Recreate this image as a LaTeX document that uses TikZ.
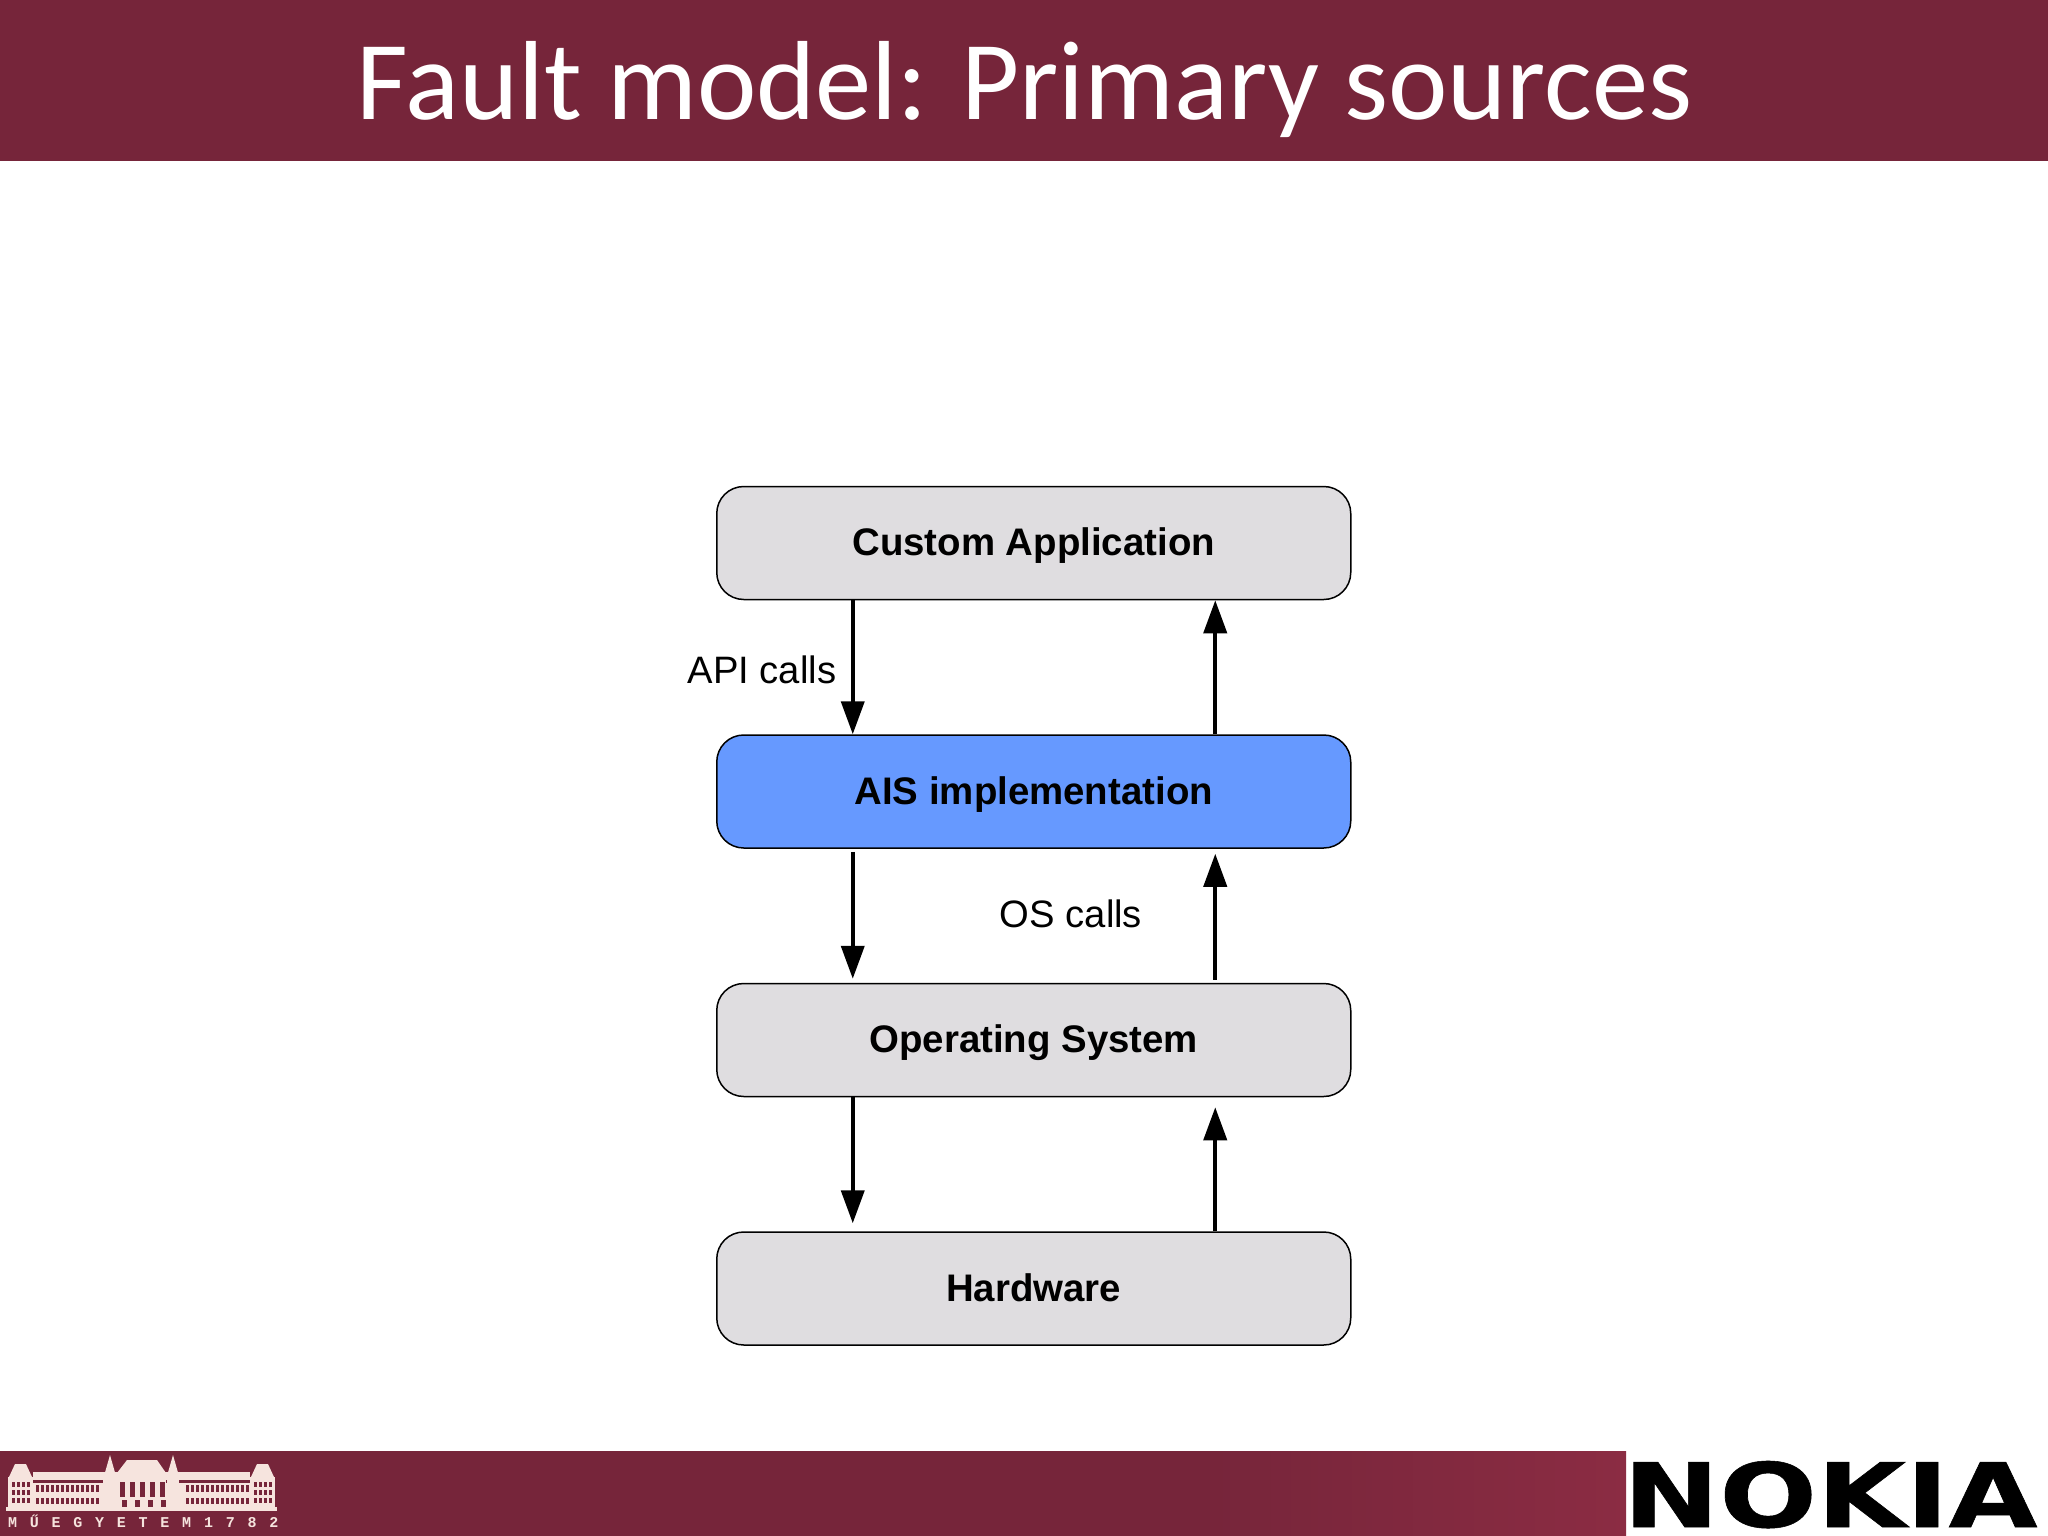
\documentclass[tikz,border=0pt]{standalone}
\usepackage{fontspec}
\usetikzlibrary{arrows.meta,calc}
\setmainfont{Liberation Sans}
\newfontfamily\titlefont{Carlito}
\newfontfamily\logofont[LetterSpace=85]{Liberation Mono}
\newfontfamily\nokiafont[FakeBold=0.6]{DejaVu Sans Bold}
\definecolor{band}{HTML}{76253A}
\definecolor{bandlight}{HTML}{8B2C43}
\definecolor{boxgrey}{HTML}{DFDDE0}
\definecolor{boxblue}{HTML}{6699FF}
\definecolor{cream}{HTML}{F6E4DE}
\tikzset{
  layer/.style={draw=black,line width=1.5pt,rounded corners=27pt,minimum width=634pt,minimum height=113pt,inner sep=0pt,text height=25pt,text depth=0pt,font=\fontsize{38.4pt}{44pt}\selectfont\bfseries,text=black},
  call/.style={line width=4pt,-{Triangle[length=33pt,width=23pt]}},
  lbl/.style={font=\fontsize{38.2pt}{44pt}\selectfont,anchor=base,inner sep=0pt,text=black},
  cr/.style={fill=cream,draw=none},
  win/.style={fill=band,draw=none}
}
\begin{document}
\begin{tikzpicture}[x=1pt,y=-1pt]
\useasboundingbox (0,0) rectangle (2048,1536);
\fill[white] (0,0) rectangle (2048,1536);
% bands
\fill[band] (0,0) rectangle (2048,161);
\fill[band] (0,1451) rectangle (1200,1536);
\shade[left color=band,right color=bandlight] (1199,1451) rectangle (1626,1536);
\node[anchor=base,inner sep=0pt,text=white,font=\fontsize{112.5pt}{120pt}\selectfont\titlefont] (title) at (1024.5,120) {Fault model: Primary sources};
% layers
\node[layer,fill=boxgrey] (app) at (1033.75,543) {Custom Application};
\node[layer,fill=boxblue] (ais) at (1033.75,791.5) {AIS implementation};
\node[layer,fill=boxgrey] (os) at (1033.75,1040) {Operating System};
\node[layer,fill=boxgrey] (hw) at (1033.75,1288.5) {Hardware};
% connectors
\draw[call] ([xshift=-181pt]app.south) -- ([xshift=-181pt]ais.north);
\draw[call] ([xshift=181.5pt]ais.north) -- ([xshift=181.5pt]app.south);
\draw[call,shorten <=3pt,shorten >=4pt] ([xshift=-181pt]ais.south) -- ([xshift=-181pt]os.north);
\draw[call,shorten <=3pt,shorten >=5pt] ([xshift=181.5pt]os.north) -- ([xshift=181.5pt]ais.south);
\draw[call,shorten >=8pt] ([xshift=-181pt]os.south) -- ([xshift=-181pt]hw.north);
\draw[call,shorten >=10pt] ([xshift=181.5pt]hw.north) -- ([xshift=181.5pt]os.south);
\node[lbl] (api) at (762,683) {API calls};
\node[lbl] (oscalls) at (1071,927) {OS calls};
% university logo
\fill[cr] (6,1507) rectangle (277,1511);
\fill[cr] (8,1477) rectangle (33,1508);
\fill[cr] (9,1477) -- (15,1464) -- (26,1464) -- (32,1477) -- cycle;
\fill[cr] (250,1477) rectangle (275,1508);
\fill[cr] (251,1477) -- (257,1464) -- (268,1464) -- (274,1477) -- cycle;
\fill[cr] (33,1472) rectangle (250,1480);
\fill[cr] (33,1483) rectangle (250,1508);
\fill[cr] (103,1476) rectangle (117,1508);
\fill[cr] (167,1476) rectangle (179,1508);
\fill[cr] (104,1476) -- (110,1455) -- (116,1476) -- cycle;
\fill[cr] (167,1476) -- (173,1455) -- (179,1476) -- cycle;
\fill[cr] (117,1473) -- (127,1460) -- (157,1460) -- (166,1473) -- cycle;
\fill[cr] (117,1473) rectangle (166,1508);
\foreach \x in {36,41,...,98,186,191,...,246}{
  \fill[win] (\x,1485) rectangle +(3,7);
  \fill[win] (\x,1498) rectangle +(3,6);
}
\foreach \x in {12,17,22,27,254,259,264,269}{
  \foreach \y in {1482,1490,1498}{\fill[win] (\x,\y) rectangle +(3,5);}
}
\foreach \x in {120,130,140,150,160}{\fill[win] (\x,1482) rectangle +(5,15);}
\foreach \x in {122,135,148,161}{\fill[win] (\x,1500) rectangle +(5,7);}
\node[anchor=base west,inner sep=0pt,text=cream,font=\fontsize{15pt}{16pt}\selectfont\bfseries\logofont] (logotext) at (8,1527) {MŰEGYETEM\hspace{13pt}1782};
% Nokia logo
\node[anchor=base west,inner sep=0pt,text=black,xscale=1.29,font=\fontsize{89pt}{90pt}\selectfont\nokiafont] (nokia) at (1623,1527) {NOKIA};
\end{tikzpicture}
\end{document}
